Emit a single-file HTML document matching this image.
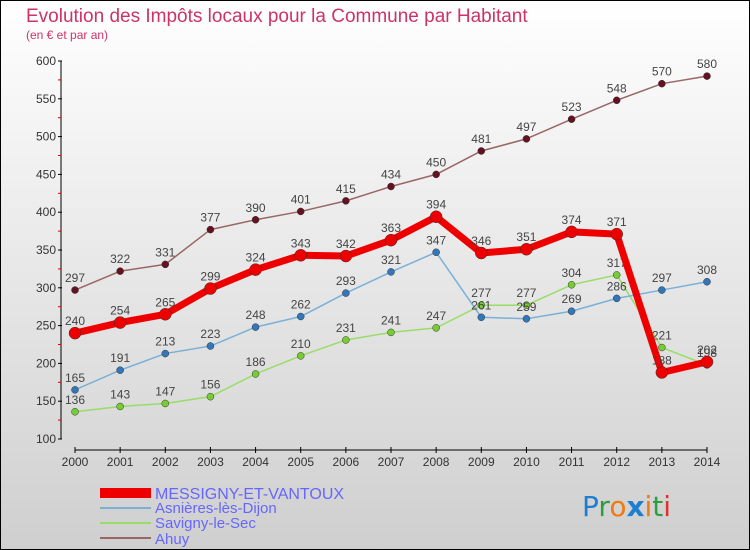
<!DOCTYPE html>
<html><head><meta charset="utf-8"><style>
body{margin:0}
svg{display:block;font-family:"Liberation Sans",sans-serif}
</style></head><body>
<svg width="750" height="550" viewBox="0 0 750 550" xmlns="http://www.w3.org/2000/svg">
<defs><linearGradient id="bg" x1="0" y1="0" x2="0" y2="1"><stop offset="0" stop-color="#ffffff"/><stop offset="1" stop-color="#cfcfcf"/></linearGradient></defs>
<rect x="0.5" y="0.5" width="749" height="549" fill="url(#bg)" stroke="#000"/>
<text x="26" y="22" font-size="19" fill="#cc3366">Evolution des Impôts locaux pour la Commune par Habitant</text>
<text x="26" y="39" font-size="12" fill="#cc3366">(en € et par an)</text>
<g id="axes"></g>
<g id="series"></g>
<g>
<rect x="100" y="488" width="51" height="10" fill="#ee0000"/>
<text x="155" y="499" font-size="16" fill="#6666ff">MESSIGNY-ET-VANTOUX</text>
<rect x="100" y="507" width="51" height="2" fill="#7ab0d8"/>
<text x="155" y="513" font-size="15" fill="#6666ff">Asnières-lès-Dijon</text>
<rect x="100" y="522" width="51" height="2" fill="#99dd66"/>
<text x="155" y="528" font-size="15" fill="#6666ff">Savigny-le-Sec</text>
<rect x="100" y="537" width="51" height="2" fill="#996666"/>
<text x="155" y="544" font-size="15" fill="#6666ff">Ahuy</text>
</g>
<g font-size="28" font-family="'DejaVu Sans',sans-serif">
<text x="582" y="516"><tspan fill="#1e7fd0">P</tspan><tspan fill="#2aa040">r</tspan><tspan fill="#f07a10">o</tspan><tspan fill="#1e7fd0" font-weight="bold">x</tspan><tspan fill="#f07a10">i</tspan><tspan fill="#2aa040">t</tspan><tspan fill="#e03030">i</tspan></text>
</g>
</svg>
<script>
const years=[2000,2001,2002,2003,2004,2005,2006,2007,2008,2009,2010,2011,2012,2013,2014];
const messigny=[240,254,265,299,324,343,342,363,394,346,351,374,371,188,202];
const asnieres=[165,191,213,223,248,262,293,321,347,261,259,269,286,297,308];
const savigny=[136,143,147,156,186,210,231,241,247,277,277,304,317,221,198];
const ahuy=[297,322,331,377,390,401,415,434,450,481,497,523,548,570,580];
const yTicks=[100,150,200,250,300,350,400,450,500,550,600];
const NS='http://www.w3.org/2000/svg';
const x=i=>75+i*(707-75)/(years.length-1);
const y=v=>439-(v-100)*(439-61)/500;
function mk(tag,attrs,parent,txt){const e=document.createElementNS(NS,tag);for(const k in attrs)e.setAttribute(k,attrs[k]);if(txt!==undefined)e.textContent=txt;parent.appendChild(e);return e;}
const ax=document.getElementById('axes');
const yl=mk('line',{x1:61,y1:y(600),x2:61,y2:y(100),stroke:'#000'},ax);


yTicks.forEach(t=>{mk('line',{x1:58,x2:62,y1:y(t),y2:y(t),stroke:'#000'},ax);
 if(t<600)mk('line',{x1:58,x2:61,y1:y(t+25),y2:y(t+25),stroke:'#dd0000'},ax);
 const tx=mk('text',{x:56,y:y(t)+4,'font-size':12,'text-anchor':'end',fill:'#333'},ax,t);
 
 });
const xl=mk('line',{x1:75,y1:450,x2:707,y2:450,stroke:'#000'},ax);


years.forEach((yr,i)=>{mk('line',{x1:x(i),x2:x(i),y1:447,y2:453,stroke:'#000'},ax);
 const tx=mk('text',{x:x(i),y:466,'font-size':12,'text-anchor':'middle',fill:'#333'},ax,yr);
 
 });
const sg=document.getElementById('series');
function series(name,data,col,w,r,dot){
 const g=mk('g',{},sg);
 
 
 mk('polyline',{points:data.map((v,i)=>x(i)+','+y(v)).join(' '),fill:'none',stroke:col,'stroke-width':w,'stroke-linejoin':'round'},g);
 data.forEach((v,i)=>{const c=mk('circle',{cx:x(i),cy:y(v),r:r,fill:dot,stroke:'#333','stroke-width':0.5},g);
  
  
  const t=mk('text',{x:x(i),y:y(v)-8,'font-size':12,'text-anchor':'middle',fill:'#444'},g,v);
  
  });
}
series('ahuy-line',ahuy,'#996666',1.5,3.5,'#661122');
series('savigny-line',savigny,'#99dd66',1.5,3.5,'#77cc33');
series('asnieres-line',asnieres,'#7ab0d8',1.5,3.5,'#3377bb');
series('messigny-line',messigny,'#ee0000',7,6,'#ee0000');
</script>
</body></html>
